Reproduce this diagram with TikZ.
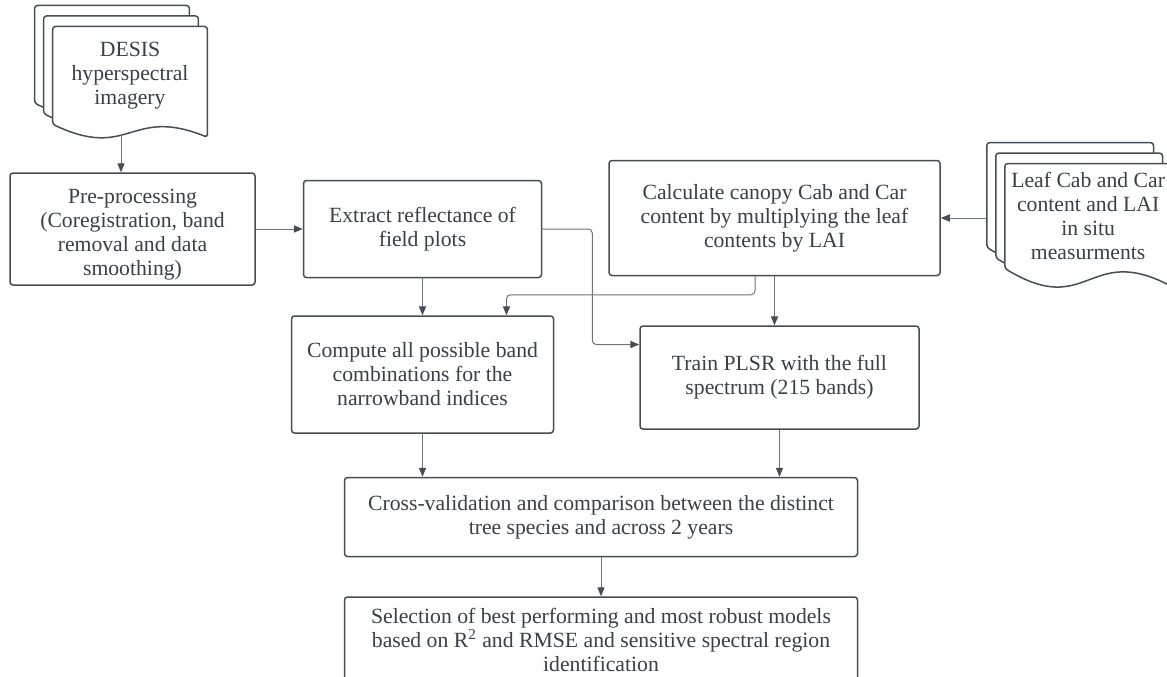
\documentclass[tikz,border=0pt]{standalone}
\usepackage{fontspec}
\setmainfont{Liberation Serif}
\usepackage{xcolor}
\usetikzlibrary{arrows.meta,positioning,backgrounds,calc}
\definecolor{inkc}{HTML}{3A4048}
\definecolor{edgec}{HTML}{474D56}
\definecolor{linec}{HTML}{6F747C}

% three stacked sheets behind a document node, #2 = depth of the wavy edge
\newcommand{\docstack}[2]{%
  \begin{scope}[on background layer]
  \foreach \k in {2,1,0}{
    \coordinate (sw) at ([shift={(-4.5pt*\k,5.25pt*\k)}]#1.south west);
    \coordinate (ne) at ([shift={(-4.5pt*\k,5.25pt*\k)}]#1.north east);
    \coordinate (s)  at ([shift={(-4.5pt*\k,5.25pt*\k)}]#1.south);
    \coordinate (se) at (ne |- sw);
    \draw[sheet] ([yshift=-#2]se) .. controls ([yshift=1.4*#2]s) and ([yshift=-2.8*#2]s) .. (sw) |- (ne) -- cycle;
  }
  \end{scope}}

\begin{document}
\begin{tikzpicture}[
    font=\fontsize{10.85}{12}\selectfont,
    text=inkc,
    box/.style={draw=edgec, line width=0.75pt, rounded corners=1.5pt, fill=white, align=center, inner sep=0pt},
    docnode/.style={align=center, inner sep=0pt, minimum height=48.5pt},
    sheet/.style={draw=edgec, line width=0.75pt, fill=white, rounded corners=1.5pt},
    arr/.style={draw=linec, line width=0.5pt, -{Triangle[length=4.5pt,width=3.6pt,color=edgec]}}
]
\useasboundingbox (0,0) rectangle (583.5pt,-338pt);
\clip (0,0) rectangle (583.5pt,-338pt);

\node[box, minimum width=122.5pt, minimum height=56pt] (pre) at (66.25pt,-114.5pt)
    {\rule{0pt}{13pt}Pre-processing\\(Coregistration, band\\removal and data\\smoothing)};
\node[docnode, minimum width=77pt, above=24pt of pre, xshift=-1.25pt] (desis)
    {DESIS\\hyperspectral\\imagery};
\docstack{desis}{6.5pt}

\node[box, minimum width=119pt, minimum height=48.5pt, right=23.5pt of pre] (extract)
    {Extract reflectance of\\field plots};
\node[box, minimum width=131pt, minimum height=58.5pt, below=18.5pt of extract] (compute)
    {Compute all possible band\\combinations for the\\narrowband indices};

\node[box, minimum width=165.5pt, minimum height=57.5pt, right=33pt of extract, yshift=5.5pt] (calc)
    {Calculate canopy Cab and Car\\content by multiplying the leaf\\contents by LAI};
\node[docnode, minimum width=83pt, minimum height=52pt, right=32pt of calc, yshift=1pt] (leaf)
    {Leaf Cab and Car\\content and LAI\\in situ\\measurments};
\docstack{leaf}{9pt}

\node[box, minimum width=139.5pt, minimum height=51.5pt, below=24.5pt of calc, xshift=2.5pt] (train)
    {Train PLSR with the full\\spectrum (215 bands)};

\coordinate (mid) at ($(compute.south)!0.5!(train.south)$);
\node[box, minimum width=256.5pt, minimum height=39.5pt, below=22.5pt of mid] (cross)
    {Cross-validation and comparison between the distinct\\tree species and across 2 years};
\node[box, minimum width=256.5pt, minimum height=43pt, below=19.5pt of cross] (select)
    {Selection of best performing and most robust models\\based on R\textsuperscript{2} and RMSE and sensitive spectral region\\identification};

\draw[arr] ([xshift=-4.5pt,yshift=-5.4pt]desis.south) -- ([xshift=-4.5pt]desis.south |- pre.north);
\draw[arr] (pre) -- (extract);
\draw[arr] (extract) -- (compute);
\draw[arr, rounded corners=2pt] (extract.east) -- ++(25pt,0) |- ([yshift=16.5pt]train.west);
\draw[arr, rounded corners=2pt] ([xshift=-9.75pt]calc.south) -- ++(0,-9.25pt) -| ([xshift=42pt]compute.north);
\draw[arr] (calc.south) -- (calc.south |- train.north);
\draw[arr] ([xshift=-9pt]leaf.west |- calc.east) -- (calc.east);
\draw[arr] (compute.south) -- (compute.south |- cross.north);
\draw[arr] (train.south) -- (train.south |- cross.north);
\draw[arr] (cross) -- (select);
\end{tikzpicture}
\end{document}
